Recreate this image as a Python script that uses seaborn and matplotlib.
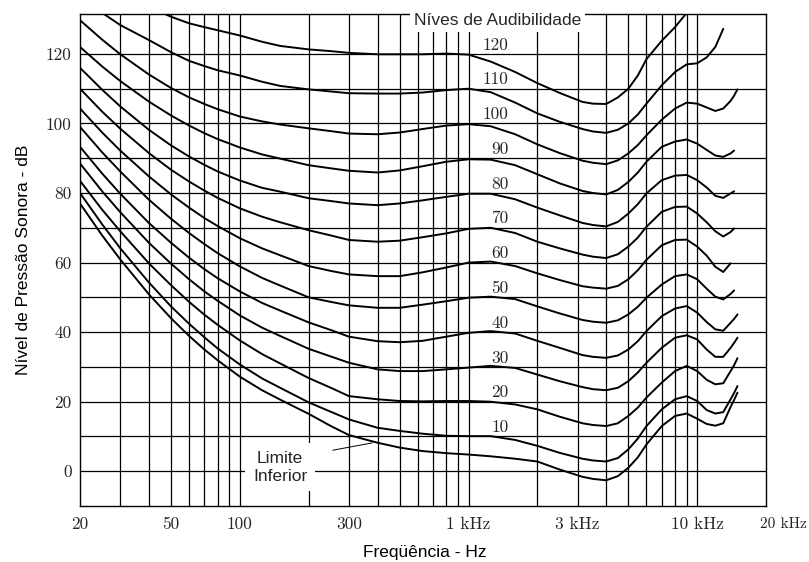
import numpy as np
import pandas as pd
import matplotlib
matplotlib.use("Agg")
import matplotlib.pyplot as plt
from matplotlib.ticker import NullLocator
from matplotlib.transforms import ScaledTranslation
import seaborn as sns

nan = np.nan

# frequencias (Hz) onde as curvas foram lidas
freqs = [20, 25, 30, 40, 50, 60, 70, 80, 100, 125, 150, 200, 250, 300, 400, 500, 630, 800,
         1000, 1250, 1600, 2000, 2500, 3150, 3500, 4000, 4500, 5000, 5500, 6000, 7000, 8000,
         9000, 10000, 11000, 12000, 13000, 14000, 14500, 15000]

# nivel de pressao sonora (dB) de cada curva de audibilidade
fon_120 = [nan, nan, nan, 133.5, 130.7, 128.8, 127.7, 126.8, 125.3, 123.5, 122.3, 121.3, 120.8, 120.3,
           119.9, 119.9, 119.9, 120.1, 119.8, 117.8, 114.8, 111.6, 108.8, 106.2, 105.7, 105.6, 107.5,
           110.0, 113.8, 118.5, 123.8, 127.7, 131.8, nan, nan, nan, nan, nan, nan, nan]
fon_110 = [nan, 131.8, 128.3, 124.0, 120.5, 118.0, 116.5, 115.3, 113.8, 112.0, 110.8, 109.8, 109.2, 108.7,
           108.6, 108.6, 108.9, 109.6, 110.0, 109.0, 106.0, 102.9, 100.5, 98.4, 97.7, 97.3, 98.2,
           100.0, 102.6, 105.7, 111.0, 114.8, 117.0, 117.3, 119.0, 122.0, 127.2, nan, nan, nan]
fon_100 = [129.7, 124.1, 119.9, 114.1, 110.2, 107.5, 105.6, 104.1, 102.0, 100.6, 99.7, 98.6, 97.8, 97.1,
           96.9, 97.4, 98.4, 99.4, 99.8, 99.2, 96.9, 94.0, 91.5, 89.3, 88.7, 88.3, 89.4,
           91.4, 93.8, 96.6, 101.1, 104.3, 106.0, 105.7, 104.6, 103.6, 104.3, 106.5, 108.0, 109.8]
fon_90 = [122.0, 116.4, 112.2, 106.3, 102.3, 99.4, 97.2, 95.5, 93.1, 91.1, 89.9, 88.0, 87.1, 86.4,
          85.9, 86.5, 87.7, 89.0, 89.7, 89.6, 88.0, 85.4, 82.8, 80.6, 80.0, 79.6, 80.9,
          83.2, 85.9, 89.0, 93.3, 94.8, 95.4, 94.2, 92.4, 90.8, 90.4, 91.4, 92.2, nan]
fon_80 = [116.0, 109.7, 104.9, 98.2, 93.7, 90.5, 88.1, 86.2, 83.6, 81.5, 80.4, 78.5, 77.7, 77.0,
          76.5, 77.0, 77.9, 78.9, 79.8, 79.8, 78.2, 75.8, 73.6, 71.4, 70.8, 70.4, 71.7,
          74.1, 76.8, 79.9, 83.7, 85.0, 85.2, 83.7, 81.6, 79.2, 78.6, 79.9, 80.5, nan]
fon_70 = [110.0, 103.4, 98.5, 91.5, 86.7, 83.3, 80.7, 78.6, 75.6, 73.2, 71.6, 69.3, 67.8, 66.5,
          66.0, 66.3, 67.3, 68.4, 69.7, 70.0, 68.5, 66.0, 64.1, 62.3, 61.7, 61.3, 62.4,
          64.6, 67.2, 70.3, 74.6, 76.0, 76.1, 74.1, 71.6, 69.0, 67.5, 68.8, 69.8, nan]
fon_60 = [104.3, 97.4, 92.2, 84.8, 79.6, 75.8, 72.8, 70.5, 67.0, 64.1, 62.1, 59.0, 57.6, 56.6,
          56.1, 56.1, 57.2, 58.6, 60.0, 60.3, 59.0, 56.9, 55.0, 53.2, 52.8, 52.5, 53.3,
          55.2, 57.8, 60.8, 65.0, 66.5, 66.6, 64.6, 62.0, 58.8, 57.3, 59.8, nan, nan]
fon_50 = [99.0, 91.7, 86.2, 78.1, 72.6, 68.5, 65.3, 62.7, 58.9, 55.6, 53.4, 50.0, 48.7, 47.7,
          47.0, 47.0, 47.9, 48.9, 49.9, 50.2, 49.5, 47.4, 45.4, 43.5, 43.0, 42.7, 43.4,
          45.1, 47.3, 49.9, 53.7, 56.1, 56.6, 55.2, 52.5, 50.2, 49.4, 51.0, 52.0, nan]
fon_40 = [93.3, 85.6, 79.8, 71.4, 65.7, 61.4, 58.1, 55.5, 51.7, 48.4, 46.2, 42.8, 40.6, 38.7,
          37.4, 37.1, 37.5, 38.7, 39.8, 40.3, 39.6, 37.5, 35.5, 33.4, 32.9, 32.6, 33.3,
          35.0, 37.4, 40.3, 44.6, 46.8, 47.5, 45.6, 42.9, 40.8, 40.4, 42.7, 43.8, 45.1]
fon_30 = [88.5, 80.5, 74.5, 65.7, 59.7, 55.2, 51.7, 49.0, 44.8, 41.3, 38.9, 35.2, 33.0, 31.2,
          29.3, 28.8, 28.8, 29.3, 29.8, 30.3, 29.7, 27.8, 25.9, 24.2, 23.6, 23.3, 24.0,
          25.9, 28.4, 31.2, 35.5, 38.4, 39.1, 37.9, 35.0, 32.9, 32.9, 35.5, 36.9, 38.4]
fon_20 = [83.5, 75.2, 69.0, 59.8, 53.5, 48.7, 45.0, 42.1, 37.6, 33.7, 31.0, 26.8, 24.0, 21.6,
          20.7, 20.2, 20.1, 20.2, 20.2, 20.0, 19.2, 17.8, 15.7, 13.8, 13.3, 13.0, 13.8,
          15.9, 18.3, 21.2, 25.5, 28.8, 30.3, 28.8, 26.3, 25.0, 25.3, 28.8, 30.5, 32.5]
fon_10 = [80.0, 71.0, 64.1, 54.3, 47.4, 42.4, 38.5, 35.3, 30.7, 26.7, 24.0, 19.8, 17.1, 14.9,
          12.5, 11.6, 10.8, 10.2, 10.1, 10.1, 9.0, 7.3, 5.3, 3.6, 3.1, 2.8, 3.8,
          6.3, 9.4, 13.0, 17.8, 20.7, 21.6, 20.2, 17.6, 16.6, 17.0, 20.7, 22.5, 24.5]
limiar = [77.0, 67.8, 60.9, 50.9, 44.0, 38.9, 35.0, 31.9, 27.2, 23.3, 20.6, 16.5, 13.0, 10.4,
          8.2, 6.8, 5.8, 5.2, 4.8, 4.3, 3.6, 2.8, 0.5, -1.6, -2.2, -2.6, -1.4,
          1.0, 4.0, 7.7, 13.0, 15.9, 16.6, 15.1, 13.6, 13.1, 13.8, 18.5, 20.5, 22.6]

niveis = [120, 110, 100, 90, 80, 70, 60, 50, 40, 30, 20, 10]

grade_x = [30, 40, 50, 60, 70, 80, 90, 100, 200, 300, 400, 500, 600, 700, 800, 900,
           1000, 2000, 3000, 4000, 5000, 6000, 7000, 8000, 9000, 10000]
grade_y = [0, 10, 20, 30, 40, 50, 60, 70, 80, 90, 100, 110, 120]

ticks_x = [20, 50, 100, 300, 1000, 3000, 10000, 20000]
rotulos_x = ["20", "50", "100", "300", "1 kHz", "3 kHz", "10 kHz", "20 kHz"]
ticks_y = [0, 20, 40, 60, 80, 100, 120]

curvas = {
    "120": fon_120, "110": fon_110, "100": fon_100, "90": fon_90, "80": fon_80,
    "70": fon_70, "60": fon_60, "50": fon_50, "40": fon_40, "30": fon_30,
    "20": fon_20, "10": fon_10, "limiar": limiar,
}

linhas = []
for nome, valores in curvas.items():
    for f, v in zip(freqs, valores):
        if not np.isnan(v):
            linhas.append((nome, f, v))
df = pd.DataFrame(linhas, columns=["curva", "freq", "spl"])

sns.set_theme(style="white")
plt.rcParams["font.family"] = ["Liberation Sans", "DejaVu Sans"]

fig = plt.figure(figsize=(8.09, 5.62), dpi=100)
ax = fig.add_axes([0.0989, 0.0996, 0.848, 0.875])

for f in grade_x:
    ax.axvline(f, color="black", lw=0.9, zorder=1)
for y in grade_y:
    ax.axhline(y, color="black", lw=0.9, zorder=1)

sns.lineplot(data=df, x="freq", y="spl", units="curva", estimator=None,
             color="black", lw=1.4, ax=ax, zorder=3)

ax.set_xscale("log")
ax.set_xlim(20, 20000)
ax.set_ylim(-10, 131.4)
ax.xaxis.set_minor_locator(NullLocator())

ax.set_xticks(ticks_x)
ax.set_xticklabels(rotulos_x, fontfamily="cmr10", fontsize=12.5)
ax.set_yticks(ticks_y)
ax.set_yticklabels([str(t) for t in ticks_y], fontfamily="cmr10", fontsize=12.5)
ax.tick_params(axis="both", length=0)
ax.tick_params(axis="x", pad=8)
ax.tick_params(axis="y", pad=6)

# o ultimo rotulo (20 kHz) fica encostado a direita do grafico
ultimo = ax.get_xticklabels()[-1]
ultimo.set_horizontalalignment("left")
ultimo.set_fontsize(11)
ultimo.set_transform(ultimo.get_transform() + ScaledTranslation(-6 / 100, 0, fig.dpi_scale_trans))

for s in ax.spines.values():
    s.set_color("black")
    s.set_linewidth(1.0)

ax.set_xlabel("Freqüência - Hz", fontsize=12.5, color="black")
ax.set_ylabel("Nível de Pressão Sonora - dB", fontsize=12.5, color="black")
ax.xaxis.set_label_coords(0.503, -0.079)
ax.yaxis.set_label_coords(-0.072, 0.5)

# rotulos das curvas
for n in niveis:
    ax.text(1500, n + 2.6, str(n), ha="right", va="center",
            fontfamily="cmr10", fontsize=12.5, zorder=4)

ax.text(1340, 129.6, "Níves de Audibilidade", ha="center", va="center", fontsize=12.5,
        bbox=dict(boxstyle="square,pad=0.2", fc="white", ec="none"), zorder=6, clip_on=False)

ax.text(150, 1.1, "Limite\nInferior", ha="center", va="center", fontsize=12.5,
        bbox=dict(boxstyle="square,pad=0.45", fc="white", ec="none"), zorder=6)
ax.annotate("", xy=(390, 8.3), xytext=(248, 5.9),
            arrowprops=dict(arrowstyle="-", color="black", lw=0.7), zorder=6)

fig.savefig("out.png", dpi=100)
